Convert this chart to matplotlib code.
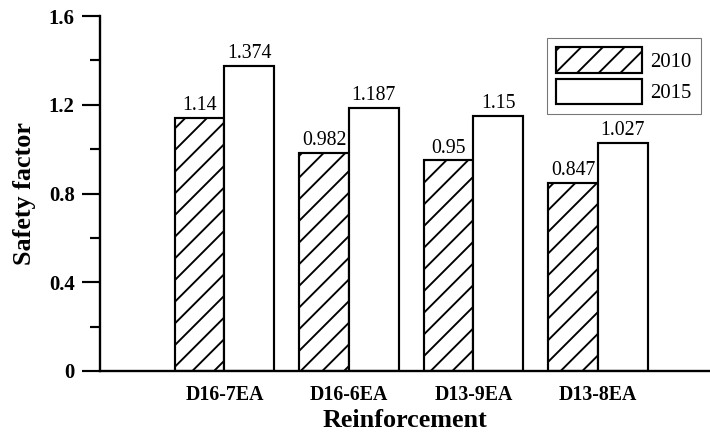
import numpy as np
import matplotlib
matplotlib.use("Agg")
import matplotlib.pyplot as plt

# dades
categories = ['D16-7EA', 'D16-6EA', 'D13-9EA', 'D13-8EA']
sf_2010 = [1.14, 0.982, 0.95, 0.847]
sf_2015 = [1.374, 1.187, 1.15, 1.027]
labels_2010 = ['1.14', '0.982', '0.95', '0.847']
labels_2015 = ['1.374', '1.187', '1.15', '1.027']

DPI = 130
plt.rcParams['font.family'] = ['Liberation Serif', 'DejaVu Serif']
plt.rcParams['hatch.linewidth'] = 1.05

fig = plt.figure(figsize=(710/DPI, 437/DPI), dpi=DPI)
ax = fig.add_axes([100/710, 1-371/437, 1-100/710, (371-16)/437])

x = np.arange(len(categories))
w = 0.4
ax.bar(x - w/2, sf_2010, w, color='white', edgecolor='black', hatch='//', linewidth=1.2, label='2010')
ax.bar(x + w/2, sf_2015, w, color='white', edgecolor='black', linewidth=1.2, label='2015')

for i in range(len(x)):
    ax.annotate(labels_2010[i], (x[i] - w/2, sf_2010[i]), xytext=(0, 1.5), textcoords='offset points',
                ha='center', va='bottom', fontsize=11)
    ax.annotate(labels_2015[i], (x[i] + w/2, sf_2015[i]), xytext=(0, 1.5), textcoords='offset points',
                ha='center', va='bottom', fontsize=11)

ax.set_xlim(-1, 3.9)
ax.set_ylim(0, 1.6)
ax.set_yticks([0, 0.4, 0.8, 1.2, 1.6])
ax.set_yticklabels(['0', '0.4', '0.8', '1.2', '1.6'], fontweight='bold', fontsize=11.5)
ax.set_yticks([0.2, 0.6, 1.0, 1.4], minor=True)
ax.set_xticks(x)
ax.set_xticklabels(categories, fontweight='bold', fontsize=11)
ax.tick_params(axis='x', length=0, pad=8)
ax.tick_params(axis='y', which='major', length=10, width=1.2, pad=4)
ax.tick_params(axis='y', which='minor', length=5.5, width=1.2)

for s in ['top', 'right']:
    ax.spines[s].set_visible(False)
for s in ['left', 'bottom']:
    ax.spines[s].set_linewidth(1.3)

ax.set_xlabel('Reinforcement', fontweight='bold', fontsize=14.5, labelpad=2)
ax.set_ylabel('Safety factor', fontweight='bold', fontsize=14.5, labelpad=7)

leg = ax.legend(loc='upper right', bbox_to_anchor=(701/710, 1-38/437), bbox_transform=fig.transFigure,
                borderaxespad=0, fancybox=False, fontsize=11.5, handlelength=4.15, handleheight=1.5,
                labelspacing=0.3, handletextpad=0.4, borderpad=0.45)
leg.get_frame().set_edgecolor('#555555')
leg.get_frame().set_linewidth(0.6)

fig.savefig('out.png', dpi=DPI)
